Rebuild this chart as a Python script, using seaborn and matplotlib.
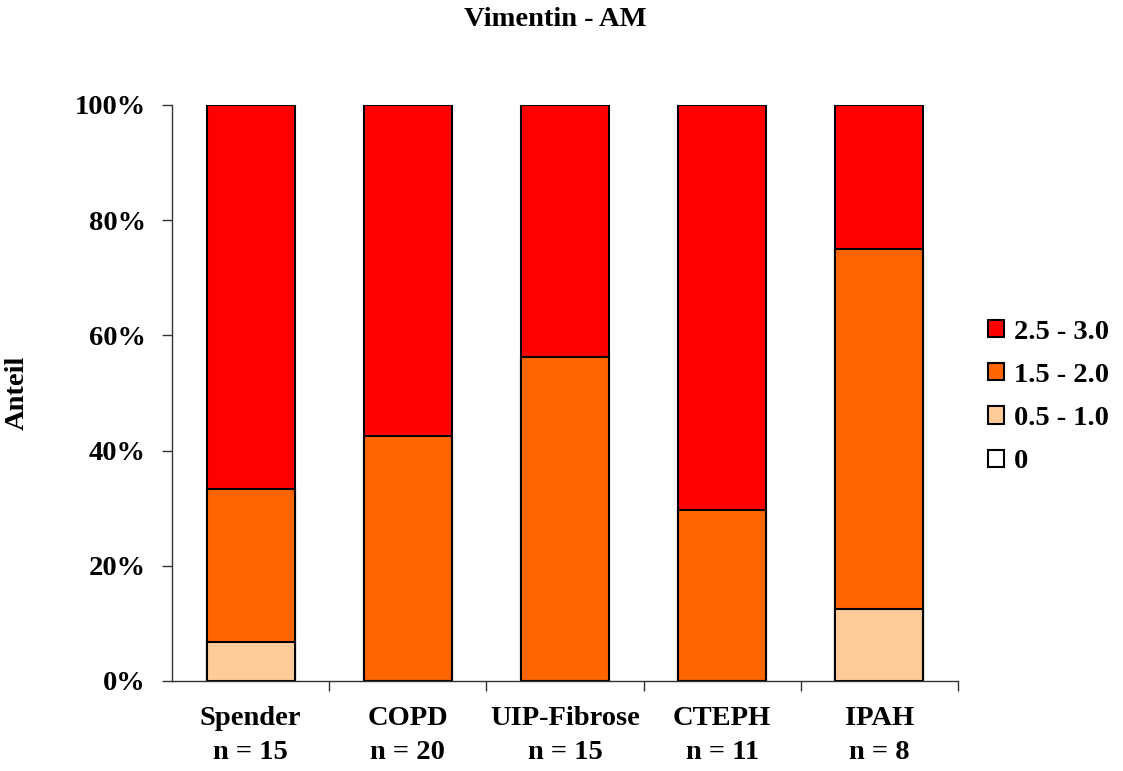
import numpy as np
import pandas as pd
import matplotlib
matplotlib.use("Agg")
import matplotlib.pyplot as plt
import seaborn as sns
from matplotlib.patches import Patch

groups = ["Spender", "COPD", "UIP-Fibrose", "CTEPH", "IPAH"]
ns = [15, 20, 15, 11, 8]
cat_labels = ["0", "0.5 - 1.0", "1.5 - 2.0", "2.5 - 3.0"]
v_0 = [0.0, 0.0, 0.0, 0.0, 0.0]
v_05_10 = [6.7, 0.0, 0.0, 0.0, 12.5]
v_15_20 = [26.6, 42.5, 56.3, 29.7, 62.5]
v_25_30 = [66.7, 57.5, 43.7, 70.3, 25.0]
colors = ["#FFFFFF", "#FFCC99", "#FF6600", "#FF0000"]

sns.set_theme(style="white")
plt.rcParams["font.family"] = ["Liberation Serif", "DejaVu Serif"]
plt.rcParams["font.weight"] = "bold"
plt.rcParams["text.color"] = "black"
plt.rcParams["axes.labelcolor"] = "black"
plt.rcParams["xtick.color"] = "black"
plt.rcParams["ytick.color"] = "black"

FS = 20.5
xlabels = [f"{g}\nn = {n}" for g, n in zip(groups, ns)]
layers = [v_0, v_05_10, v_15_20, v_25_30]
cum = np.cumsum(np.array(layers), axis=0)

fig = plt.figure(figsize=(11.23, 7.71), dpi=100)
ax = fig.add_axes([172/1123, 1-681/771, (958-172)/1123, (681-105)/771])

# draw from top (largest cumulative) to bottom
for i in range(len(layers) - 1, 0, -1):
    df = pd.DataFrame({"group": xlabels, "val": cum[i]})
    sns.barplot(data=df, x="group", y="val", color=colors[i], saturation=1,
                width=0.56, edgecolor="black", linewidth=1.5, ax=ax, errorbar=None)

ax.set_ylim(0, 100)
ax.set_xlim(-0.5, 4.5)
ax.set_yticks([0, 20, 40, 60, 80, 100])
ax.set_yticklabels([f"{t}%" for t in [0, 20, 40, 60, 80, 100]], fontsize=FS, fontweight="bold")
ax.set_xticks(range(5))
ax.set_xticklabels(xlabels, fontsize=FS, fontweight="bold", linespacing=1.45)
ax.set_xticks([0.5, 1.5, 2.5, 3.5, 4.5], minor=True)
ax.tick_params(axis="x", which="major", length=0, pad=18)
ax.tick_params(axis="x", which="minor", length=7, width=1, color="#333333", direction="out", bottom=True)
ax.tick_params(axis="y", length=7, width=1, color="#333333", direction="out", left=True, pad=12)
ax.set_xlabel("")
ax.set_ylabel("Anteil", fontsize=FS, fontweight="bold")
ax.yaxis.set_label_coords((30-172)/786, 0.5)

for s in ["top", "right"]:
    ax.spines[s].set_visible(False)
for s in ["left", "bottom"]:
    ax.spines[s].set_visible(True)
    ax.spines[s].set_color("#333333")
    ax.spines[s].set_linewidth(1)

fig.text(555/1123, 1-20/771, "Vimentin - AM", ha="center", va="center",
         fontsize=FS, fontweight="bold")

handles = [Patch(facecolor=colors[i], edgecolor="black", linewidth=1.5) for i in range(3, -1, -1)]
labels = [cat_labels[i] for i in range(3, -1, -1)]
ax.legend(handles, labels, loc="center left", bbox_to_anchor=(988/1123, 1-397/771),
          bbox_transform=fig.transFigure, frameon=False,
          prop={"size": FS, "weight": "bold"}, handlelength=0.55, handleheight=0.55,
          handletextpad=0.35, labelspacing=0.64, borderaxespad=0, borderpad=0)

fig.savefig("out.png", dpi=100)
